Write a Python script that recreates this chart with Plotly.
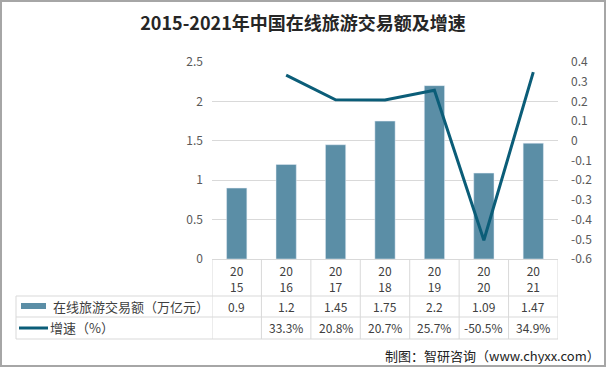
import plotly.graph_objects as go

years = ["2015", "2016", "2017", "2018", "2019", "2020", "2021"]
year_ticks = ["20<br>15", "20<br>16", "20<br>17", "20<br>18", "20<br>19", "20<br>20", "20<br>21"]
volume = [0.9, 1.2, 1.45, 1.75, 2.2, 1.09, 1.47]
volume_text = ["0.9", "1.2", "1.45", "1.75", "2.2", "1.09", "1.47"]
growth = [None, 0.333, 0.208, 0.207, 0.257, -0.505, 0.349]
growth_text = ["", "33.3%", "20.8%", "20.7%", "25.7%", "-50.5%", "34.9%"]
series_names = ["在线旅游交易额（万亿元）", "增速（%）"]
title = "<b>2015-2021年中国在线旅游交易额及增速</b>"
source = "制图：智研咨询（www.chyxx.com）"

W, H = 606, 367
L, R, T, B = 212, 558, 62, 259
BAR_C = "#5b8ea6"
LINE_C = "#0b5d78"
GRID_C = "#d9d9d9"
FONT = "Noto Sans CJK SC"

def px(x):
    return (x - L) / (R - L)

def py(y):
    return (B - y) / (B - T)

fig = go.Figure()
fig.add_trace(go.Bar(x=years, y=volume, marker_color=BAR_C, name=series_names[0],
                     showlegend=False, hoverinfo="skip"))
fig.add_trace(go.Scatter(x=years, y=growth, yaxis="y2", mode="lines",
                         line=dict(color=LINE_C, width=3), name=series_names[1],
                         showlegend=False, connectgaps=False, hoverinfo="skip"))

shapes = []
for i in range(len(years) + 1):
    shapes.append(dict(type="line", xref="x", yref="paper", x0=i - 0.5, x1=i - 0.5,
                       y0=py(B), y1=py(339), line=dict(color=GRID_C, width=1)))
shapes.append(dict(type="line", xref="paper", yref="paper", x0=px(16), x1=px(16),
                   y0=py(296), y1=py(339), line=dict(color=GRID_C, width=1)))
for yy in (296, 317, 339):
    shapes.append(dict(type="line", xref="paper", yref="paper", x0=px(16), x1=1,
                       y0=py(yy), y1=py(yy), line=dict(color=GRID_C, width=1)))
shapes.append(dict(type="rect", xref="paper", yref="paper", x0=px(21), x1=px(46),
                   y0=py(309), y1=py(303), fillcolor=BAR_C, line=dict(width=0)))
shapes.append(dict(type="line", xref="paper", yref="paper", x0=px(19), x1=px(48),
                   y0=py(328), y1=py(328), line=dict(color=LINE_C, width=3)))
shapes.append(dict(type="rect", xref="paper", yref="paper", x0=px(1), x1=px(605),
                   y0=py(366), y1=py(1), line=dict(color="#a6a6a6", width=2)))

ann = []
for i in range(len(years)):
    ann.append(dict(x=i, xref="x", y=py(306), yref="paper", yanchor="middle",
                    text=volume_text[i], showarrow=False,
                    font=dict(size=12, color="#404040", family=FONT)))
    if growth_text[i]:
        ann.append(dict(x=i, xref="x", y=py(327), yref="paper", yanchor="middle",
                        text=growth_text[i], showarrow=False,
                        font=dict(size=12, color="#404040", family=FONT)))
ann.append(dict(x=px(51), xref="paper", y=py(306), yref="paper", yanchor="middle",
                text=series_names[0], xanchor="left", showarrow=False,
                font=dict(size=13, color="#404040", family=FONT)))
ann.append(dict(x=px(48), xref="paper", y=py(327), yref="paper", yanchor="middle",
                text=series_names[1], xanchor="left", showarrow=False,
                font=dict(size=13, color="#404040", family=FONT)))
ann.append(dict(x=px(602), xref="paper", y=py(355), yref="paper", yanchor="middle",
                text=source, xanchor="right", showarrow=False,
                font=dict(size=13, color="#222222", family=FONT)))

fig.update_layout(
    width=W, height=H,
    margin=dict(l=L, r=W - R, t=T, b=H - B, pad=0, autoexpand=False),
    paper_bgcolor="white", plot_bgcolor="white",
    title=dict(text=title, x=0.5, xref="container", xanchor="center",
               y=1 - 24 / H, yref="container", yanchor="middle", automargin=False,
               font=dict(size=18, color="#262626", family=FONT)),
    bargap=0.59,
    xaxis=dict(type="category", tickvals=years, ticktext=year_ticks, showgrid=False,
               showline=True, linecolor=GRID_C, linewidth=1, ticks="", automargin=False,
               tickfont=dict(size=12, color="#404040", family=FONT),
               ticklabelstandoff=2,
               range=[-0.5, len(years) - 0.5]),
    yaxis=dict(range=[0, 2.5], dtick=0.5, showgrid=True, gridcolor=GRID_C, gridwidth=1,
               zeroline=False, showline=False, ticks="", ticklabelstandoff=8, automargin=False,
               tickfont=dict(size=12, color="#595959", family=FONT)),
    yaxis2=dict(range=[-0.6, 0.4], overlaying="y", side="right",
                showgrid=False, zeroline=False, showline=False, ticks="", automargin=False,
                tickvals=[0.4, 0.3, 0.2, 0.1, 0, -0.1, -0.2, -0.3, -0.4, -0.5, -0.6],
                ticktext=["0.4", "0.3", "0.2", "0.1", "0", "-0.1", "-0.2", "-0.3", "-0.4", "-0.5", "-0.6"],
                ticklabelstandoff=12,
                tickfont=dict(size=12, color="#595959", family=FONT)),
    shapes=shapes, annotations=ann,
)

fig.write_html("out.html", config={"displayModeBar": False},
               post_script="document.body.style.margin='0px';")
